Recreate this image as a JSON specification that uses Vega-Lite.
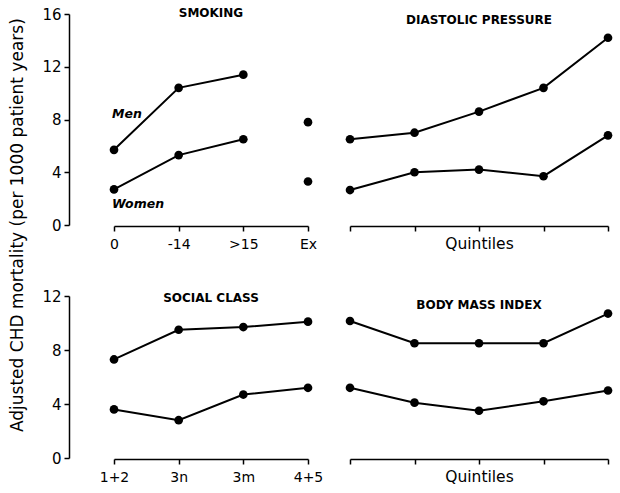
{
  "$schema": "https://vega.github.io/schema/vega-lite/v6.json",
  "padding": {"left": 8, "top": 7, "right": 5, "bottom": 5},
  "background": "white",
  "title": {"text": "Adjusted CHD mortality (per 1000 patient years)", "orient": "left", "anchor": "middle", "fontSize": 17, "fontWeight": "normal", "font": "DejaVu Sans", "color": "black", "offset": 15, "dx": 21},
  "datasets": {
    "d": [
      {"panel": "smoking", "x": "0", "sex": "Men", "value": 5.7},
      {"panel": "smoking", "x": "-14", "sex": "Men", "value": 10.4},
      {"panel": "smoking", "x": ">15", "sex": "Men", "value": 11.4},
      {"panel": "smoking", "x": "Ex", "sex": "Men", "value": 7.8},
      {"panel": "smoking", "x": "0", "sex": "Women", "value": 2.7},
      {"panel": "smoking", "x": "-14", "sex": "Women", "value": 5.3},
      {"panel": "smoking", "x": ">15", "sex": "Women", "value": 6.5},
      {"panel": "smoking", "x": "Ex", "sex": "Women", "value": 3.3},
      {"panel": "diastolic", "x": "Q1", "sex": "Men", "value": 6.5},
      {"panel": "diastolic", "x": "Q2", "sex": "Men", "value": 7.0},
      {"panel": "diastolic", "x": "Q3", "sex": "Men", "value": 8.6},
      {"panel": "diastolic", "x": "Q4", "sex": "Men", "value": 10.4},
      {"panel": "diastolic", "x": "Q5", "sex": "Men", "value": 14.2},
      {"panel": "diastolic", "x": "Q1", "sex": "Women", "value": 2.65},
      {"panel": "diastolic", "x": "Q2", "sex": "Women", "value": 4.0},
      {"panel": "diastolic", "x": "Q3", "sex": "Women", "value": 4.2},
      {"panel": "diastolic", "x": "Q4", "sex": "Women", "value": 3.7},
      {"panel": "diastolic", "x": "Q5", "sex": "Women", "value": 6.8},
      {"panel": "social", "x": "1+2", "sex": "Men", "value": 7.3},
      {"panel": "social", "x": "3n", "sex": "Men", "value": 9.5},
      {"panel": "social", "x": "3m", "sex": "Men", "value": 9.7},
      {"panel": "social", "x": "4+5", "sex": "Men", "value": 10.1},
      {"panel": "social", "x": "1+2", "sex": "Women", "value": 3.6},
      {"panel": "social", "x": "3n", "sex": "Women", "value": 2.8},
      {"panel": "social", "x": "3m", "sex": "Women", "value": 4.7},
      {"panel": "social", "x": "4+5", "sex": "Women", "value": 5.2},
      {"panel": "bmi", "x": "Q1", "sex": "Men", "value": 10.15},
      {"panel": "bmi", "x": "Q2", "sex": "Men", "value": 8.5},
      {"panel": "bmi", "x": "Q3", "sex": "Men", "value": 8.5},
      {"panel": "bmi", "x": "Q4", "sex": "Men", "value": 8.5},
      {"panel": "bmi", "x": "Q5", "sex": "Men", "value": 10.7},
      {"panel": "bmi", "x": "Q1", "sex": "Women", "value": 5.2},
      {"panel": "bmi", "x": "Q2", "sex": "Women", "value": 4.1},
      {"panel": "bmi", "x": "Q3", "sex": "Women", "value": 3.5},
      {"panel": "bmi", "x": "Q4", "sex": "Women", "value": 4.2},
      {"panel": "bmi", "x": "Q5", "sex": "Women", "value": 5.0}
    ],
    "labels": [
      {"label": "Men", "x": "0", "value": 8.1},
      {"label": "Women", "x": "0", "value": 1.3}
    ]
  },
  "columns": 2,
  "spacing": {"row": 71, "column": 42},
  "bounds": "flush",
  "concat": [
    {
      "width": 194, "height": 211,
      "title": {"text": "SMOKING", "frame": "group", "offset": -22, "baseline": "alphabetic"},
      "encoding": {
        "x": {"field": "x", "type": "ordinal", "scale": {"type": "point", "padding": 0, "domain": ["0", "-14", ">15", "Ex"]}, "axis": {"title": null, "labelAngle": 0, "offset": 1, "labelPadding": 6}},
        "y": {"field": "value", "type": "quantitative", "scale": {"domain": [0, 16]}, "axis": {"title": null, "offset": 45, "values": [0, 4, 8, 12, 16], "labelPadding": 3, "labelFontSize": 15}}
      },
      "layer": [
        {"data": {"name": "d"}, "transform": [{"filter": "datum.panel === 'smoking' && datum.x !== 'Ex'"}], "mark": {"type": "line", "color": "black", "strokeWidth": 2}, "encoding": {"detail": {"field": "sex"}}},
        {"data": {"name": "d"}, "transform": [{"filter": "datum.panel === 'smoking'"}], "mark": {"type": "point", "filled": true, "color": "black", "size": 75, "opacity": 1}},
        {"data": {"name": "labels"}, "mark": {"type": "text", "font": "DejaVu Sans", "fontSize": 12.5, "fontStyle": "italic", "fontWeight": "bold", "align": "left", "baseline": "alphabetic", "dx": -2, "color": "black"}, "encoding": {"text": {"field": "label", "type": "nominal"}}}
      ]
    },
    {
      "width": 258, "height": 211,
      "title": {"text": "DIASTOLIC PRESSURE", "frame": "group", "offset": -22, "baseline": "alphabetic"},
      "data": {"name": "d"},
      "transform": [{"filter": "datum.panel === 'diastolic'"}],
      "encoding": {
        "x": {"field": "x", "type": "ordinal", "scale": {"type": "point", "padding": 0, "domain": ["Q1", "Q2", "Q3", "Q4", "Q5"]}, "axis": {"title": "Quintiles", "labels": false, "offset": 1, "titlePadding": 5}},
        "y": {"field": "value", "type": "quantitative", "scale": {"domain": [0, 16]}, "axis": null}
      },
      "layer": [
        {"mark": {"type": "line", "color": "black", "strokeWidth": 2}, "encoding": {"detail": {"field": "sex"}}},
        {"mark": {"type": "point", "filled": true, "color": "black", "size": 75, "opacity": 1}}
      ]
    },
    {
      "width": 194, "height": 162,
      "title": {"text": "SOCIAL CLASS", "frame": "group", "offset": -25, "baseline": "alphabetic"},
      "data": {"name": "d"},
      "transform": [{"filter": "datum.panel === 'social'"}],
      "encoding": {
        "x": {"field": "x", "type": "ordinal", "scale": {"type": "point", "padding": 0, "domain": ["1+2", "3n", "3m", "4+5"]}, "axis": {"title": null, "labelAngle": 0, "offset": 1, "labelPadding": 6}},
        "y": {"field": "value", "type": "quantitative", "scale": {"domain": [0, 12]}, "axis": {"title": null, "offset": 45, "values": [0, 4, 8, 12], "labelPadding": 3, "labelFontSize": 15}}
      },
      "layer": [
        {"mark": {"type": "line", "color": "black", "strokeWidth": 2}, "encoding": {"detail": {"field": "sex"}}},
        {"mark": {"type": "point", "filled": true, "color": "black", "size": 75, "opacity": 1}}
      ]
    },
    {
      "width": 258, "height": 162,
      "title": {"text": "BODY MASS INDEX", "frame": "group", "offset": -25, "baseline": "alphabetic"},
      "data": {"name": "d"},
      "transform": [{"filter": "datum.panel === 'bmi'"}],
      "encoding": {
        "x": {"field": "x", "type": "ordinal", "scale": {"type": "point", "padding": 0, "domain": ["Q1", "Q2", "Q3", "Q4", "Q5"]}, "axis": {"title": "Quintiles", "labels": false, "offset": 1, "titlePadding": 5}},
        "y": {"field": "value", "type": "quantitative", "scale": {"domain": [0, 12]}, "axis": null}
      },
      "layer": [
        {"mark": {"type": "line", "color": "black", "strokeWidth": 2}, "encoding": {"detail": {"field": "sex"}}},
        {"mark": {"type": "point", "filled": true, "color": "black", "size": 75, "opacity": 1}}
      ]
    }
  ],
  "config": {
    "view": {"stroke": null},
    "font": "DejaVu Sans",
    "title": {"font": "DejaVu Sans", "fontSize": 12, "fontWeight": "bold", "color": "black", "anchor": "middle"},
    "axis": {"grid": false, "domainColor": "black", "tickColor": "black", "labelColor": "black", "titleColor": "black", "labelFont": "DejaVu Sans", "titleFont": "DejaVu Sans", "labelFontSize": 14, "titleFontSize": 15.5, "titleFontWeight": "normal", "tickSize": 5, "domainWidth": 1.5, "tickWidth": 1.5}
  }
}
